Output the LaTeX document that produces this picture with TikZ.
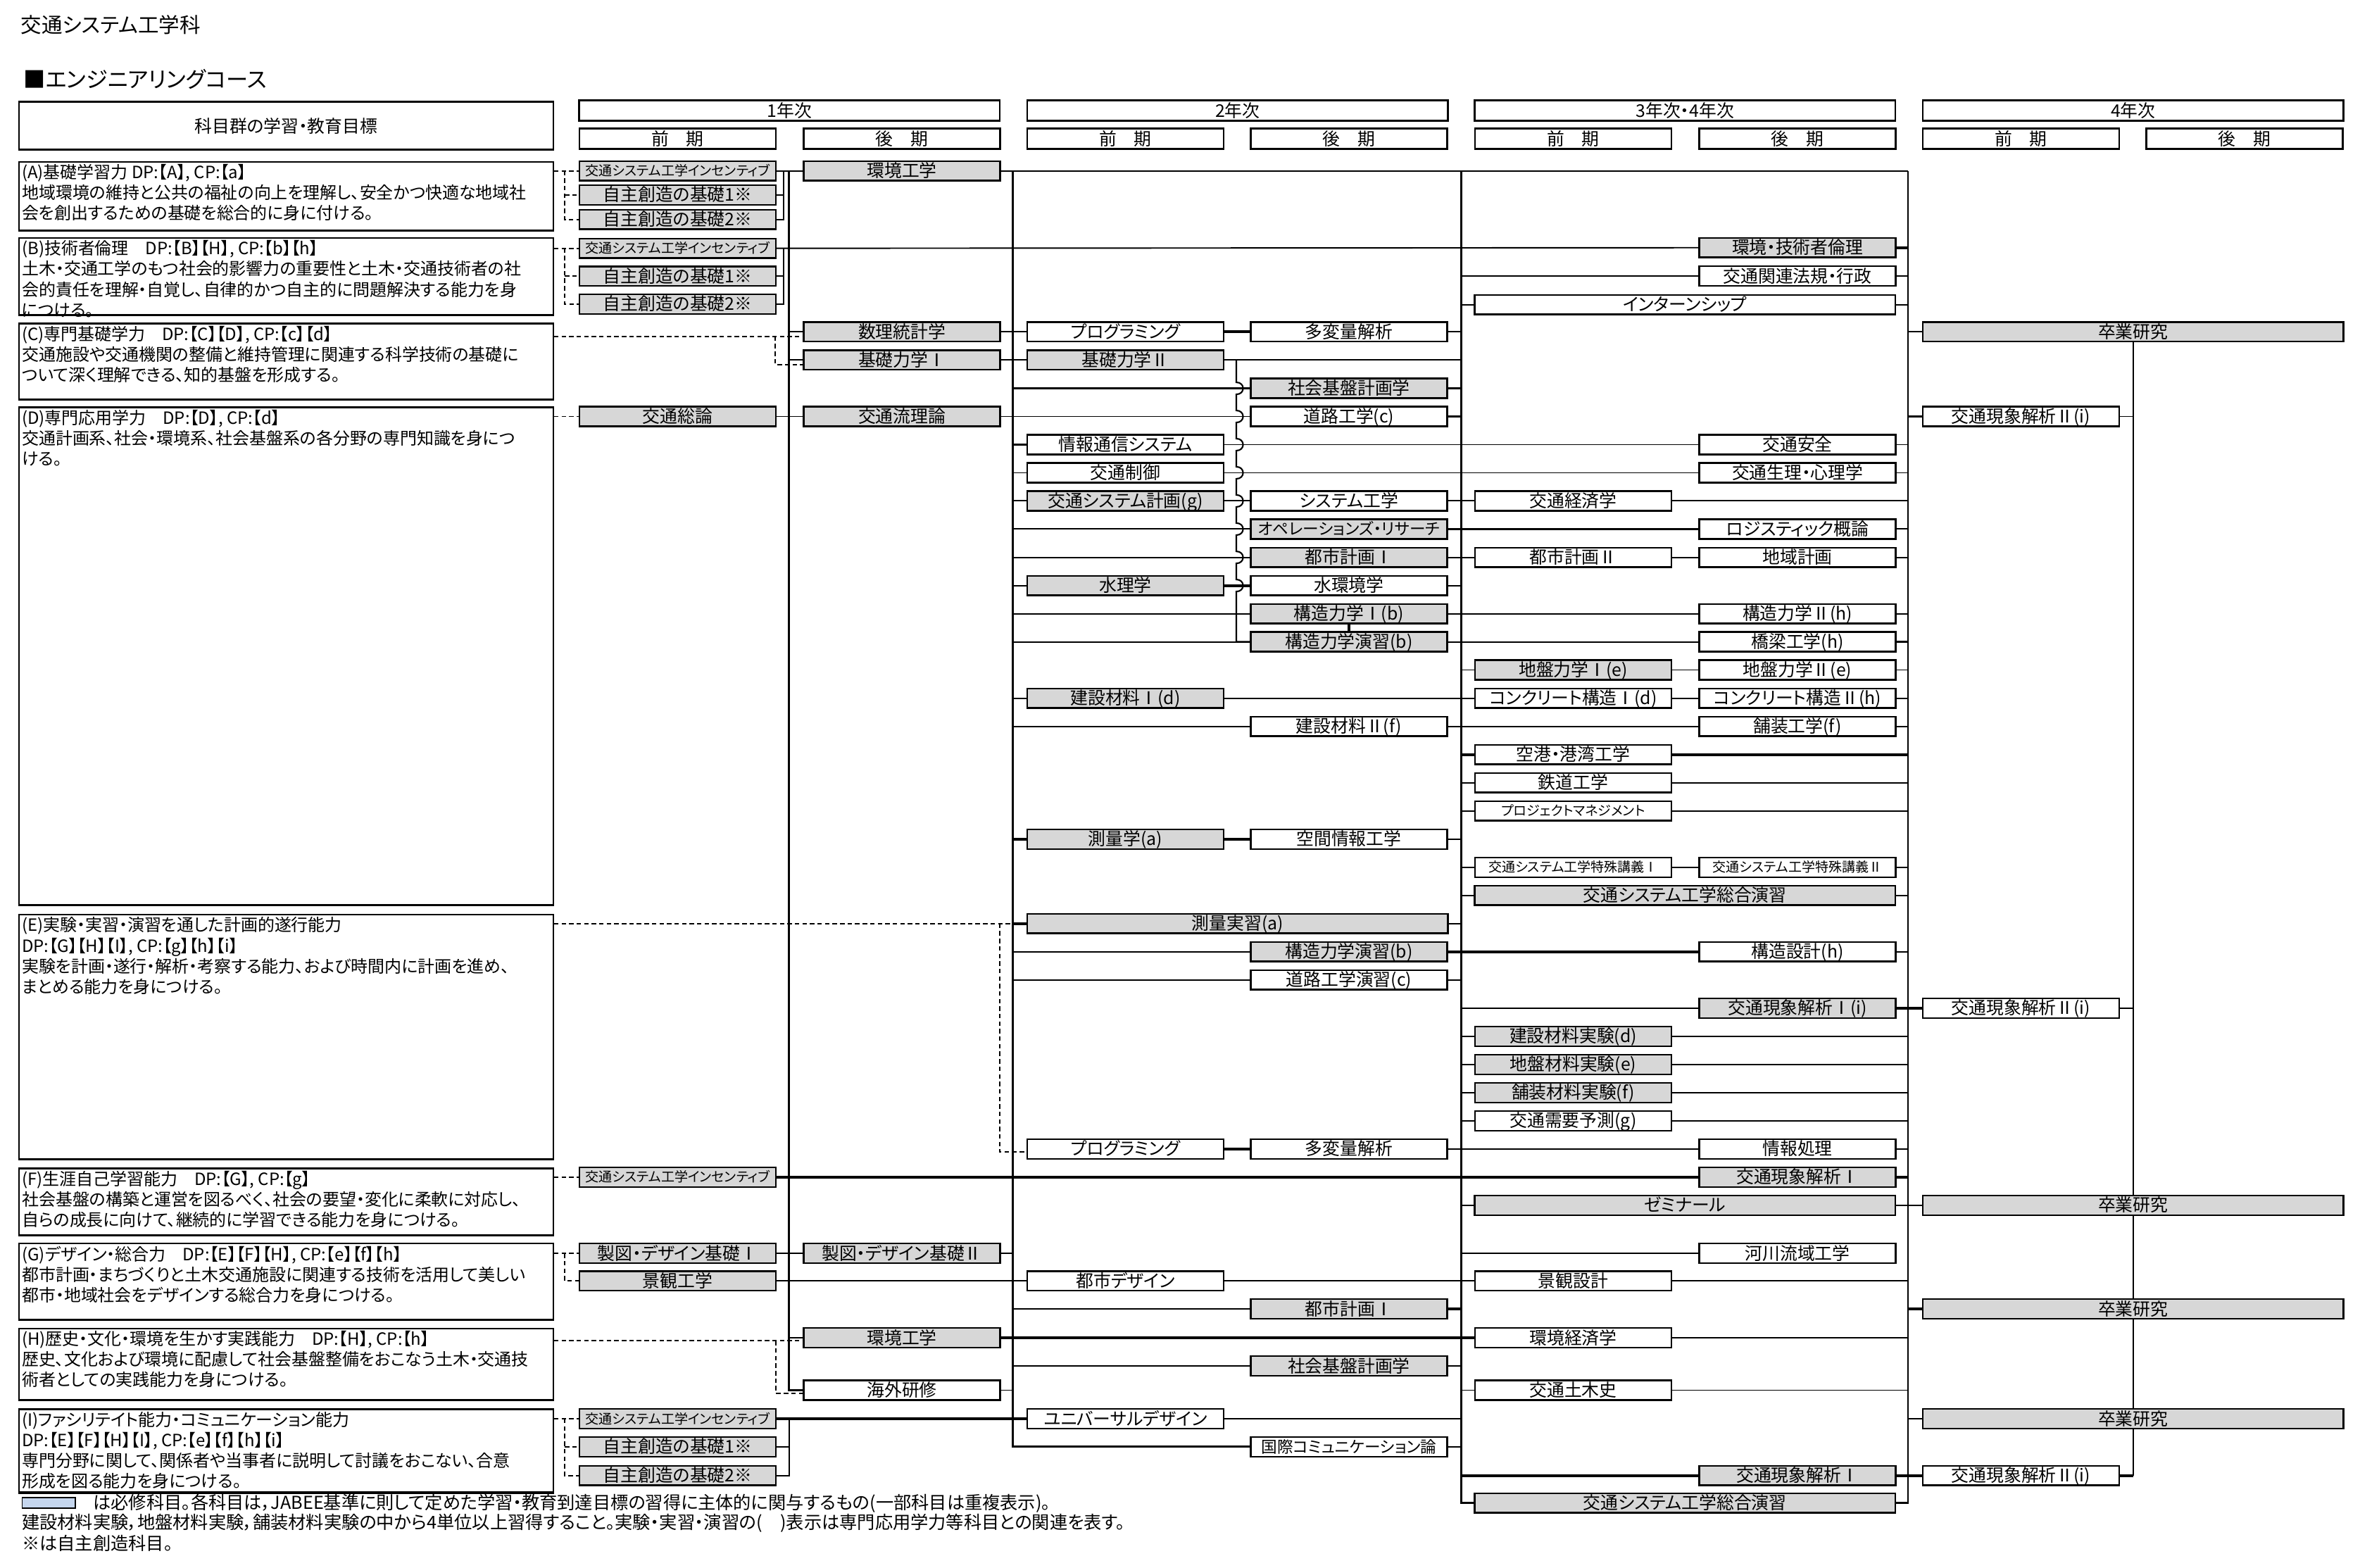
\documentclass[tikz,border=0pt]{standalone}
\usepackage{fontspec}
\setmainfont{Noto Sans CJK JP}[RawFeature=+palt]
\usepackage{tikz}
\definecolor{reqgray}{RGB}{215,215,215}
\definecolor{legblue}{RGB}{197,214,238}
\newcommand\jfs[1]{\fontsize{#1}{#1}\selectfont}

\begin{document}
\begin{tikzpicture}[x=1pt,y=-1pt,
     subj/.style={draw,line width=1.1pt,minimum width=130.5pt,minimum height=13pt,inner sep=0pt,
                  text height=9.4pt,text depth=1pt,font=\jfs{11.6}},
     req/.style={subj,fill=reqgray},
     opt/.style={subj,fill=white},
     wide/.style={minimum width=279.5pt},
     smalltxt/.style={font=\jfs{8.9},text height=7.3pt,text depth=0.8pt},
     narrowtxt/.style={font=\jfs{10.6},text height=8.6pt,text depth=0.9pt},
     thickfoot/.style={path picture={\draw[line width=2pt] (path picture bounding box.south west) -- (path picture bounding box.south east);}},
     hdbox/.style={draw,line width=1.1pt,minimum width=130.5pt,minimum height=13.6pt,inner sep=0pt,
                   text height=9.4pt,text depth=1pt,font=\jfs{11.6},thickfoot},
     objbox/.style={draw,line width=1.1pt,minimum width=355pt,anchor=north west,inner sep=0pt,thickfoot},
     objtext/.style={anchor=north west,align=left,inner xsep=2.4pt,inner ysep=2pt,font=\fontsize{11.2}{13.6}\selectfont},
     link/.style={line width=0.9pt},
     heavy/.style={line width=1.8pt},
     trunk/.style={line width=1.5pt},
     rtrunk/.style={line width=1.1pt},
     hopline/.style={line width=1pt},
     dashlink/.style={line width=0.9pt,dash pattern=on 3pt off 2pt}]

     \path[use as bounding box,fill=white] (0,0) rectangle (1568,1041.7);

     \node[anchor=west,inner sep=0pt,font=\jfs{13.8}] (title) at (13.7,16.5) {交通システム工学科};
     \node[anchor=west,inner sep=0pt,font=\jfs{14.6}] (course) at (15.5,52.8) {■エンジニアリングコース};
     \node[objbox,minimum height=32pt,font=\jfs{11.6}] (head) at (12,67) {科目群の学習・教育目標};

     \node[hdbox,wide] (yr1) at (524.5,73.5) {1年次};
     \node[hdbox,wide] (yr2) at (822.25,73.5) {2年次};
     \node[hdbox,wide] (yr3) at (1119.5,73.5) {3年次・4年次};
     \node[hdbox,wide] (yr4) at (1417.25,73.5) {4年次};
     \foreach \cx [count=\i] in {450.25,747.75,1045.25,1342.75}
          \node[hdbox] (mae\i) at (\cx,92.2) {前　期};
     \foreach \cx [count=\i] in {599.25,896.25,1194.25,1491.25}
          \node[hdbox] (ato\i) at (\cx,92.2) {後　期};

     \node[objbox,minimum height=46pt] (objA) at (12,107) {};
     \node[objtext] (objAt) at (objA.north west) {(A)基礎学習力 DP:【A】, CP:【a】\\
          地域環境の維持と公共の福祉の向上を理解し、安全かつ快適な地域社\\
          会を創出するための基礎を総合的に身に付ける。};
     \node[objbox,minimum height=51.4pt] (objB) at (12,157.6) {};
     \node[objtext] (objBt) at (objB.north west) {(B)技術者倫理　DP:【B】【H】, CP:【b】【h】\\
          土木・交通工学のもつ社会的影響力の重要性と土木・交通技術者の社\\
          会的責任を理解・自覚し、自律的かつ自主的に問題解決する能力を身\\
          につける。};
     \node[objbox,minimum height=50.6pt] (objC) at (12,214.4) {};
     \node[objtext] (objCt) at (objC.north west) {(C)専門基礎学力　DP:【C】【D】, CP:【c】【d】\\
          交通施設や交通機関の整備と維持管理に関連する科学技術の基礎に\\
          ついて深く理解できる、知的基盤を形成する。};
     \node[objbox,minimum height=331pt] (objD) at (12,270) {};
     \node[objtext] (objDt) at (objD.north west) {(D)専門応用学力　DP:【D】, CP:【d】\\
          交通計画系、社会・環境系、社会基盤系の各分野の専門知識を身につ\\
          ける。};
     \node[objbox,minimum height=162.8pt] (objE) at (12,607.2) {};
     \node[objtext] (objEt) at (objE.north west) {(E)実験・実習・演習を通した計画的遂行能力\\
          DP:【G】【H】【I】, CP:【g】【h】【i】\\
          実験を計画・遂行・解析・考察する能力、および時間内に計画を進め、\\
          まとめる能力を身につける。};
     \node[objbox,minimum height=44.7pt] (objF) at (12,775.8) {};
     \node[objtext] (objFt) at (objF.north west) {(F)生涯自己学習能力　DP:【G】, CP:【g】\\
          社会基盤の構築と運営を図るべく、社会の要望・変化に柔軟に対応し、\\
          自らの成長に向けて、継続的に学習できる能力を身につける。};
     \node[objbox,minimum height=50.8pt] (objG) at (12,825.6) {};
     \node[objtext] (objGt) at (objG.north west) {(G)デザイン・総合力　DP:【E】【F】【H】, CP:【e】【f】【h】\\
          都市計画・まちづくりと土木交通施設に関連する技術を活用して美しい\\
          都市・地域社会をデザインする総合力を身につける。};
     \node[objbox,minimum height=48pt] (objH) at (12,882) {};
     \node[objtext] (objHt) at (objH.north west) {(H)歴史・文化・環境を生かす実践能力　DP:【H】, CP:【h】\\
          歴史、文化および環境に配慮して社会基盤整備をおこなう土木・交通技\\
          術者としての実践能力を身につける。};
     \node[objbox,minimum height=55.6pt] (objI) at (12,935.7) {};
     \node[objtext] (objIt) at (objI.north west) {(I)ファシリテイト能力・コミュニケーション能力\\
          DP:【E】【F】【H】【I】, CP:【e】【f】【h】【i】\\
          専門分野に関して、関係者や当事者に説明して討議をおこない、合意\\
          形成を図る能力を身につける。};

     \node[req,smalltxt] (incA) at (450.25,113.5) {交通システム工学インセンティブ};
     \node[req] (jisA1) at (450.25,129.5) {自主創造の基礎1※};
     \node[req] (jisA2) at (450.25,145.8) {自主創造の基礎2※};
     \node[req] (kankyoA) at (599.25,113.5) {環境工学};
     \node[req,smalltxt] (incB) at (450.25,165) {交通システム工学インセンティブ};
     \node[req] (jisB1) at (450.25,183.5) {自主創造の基礎1※};
     \node[req] (jisB2) at (450.25,202) {自主創造の基礎2※};
     \node[req] (rinri) at (1194.25,164.5) {環境・技術者倫理};
     \node[opt] (hoki) at (1194.25,183.4) {交通関連法規・行政};
     \node[opt,wide] (intern) at (1119.5,202.4) {インターンシップ};

     \node[req] (suri) at (599.25,220.5) {数理統計学};
     \node[opt] (prog1) at (747.75,220.5) {プログラミング};
     \node[opt] (tahen1) at (896.25,220.5) {多変量解析};
     \node[req,wide] (sotsu1) at (1417.25,220.5) {卒業研究};
     \node[req] (kiso1) at (599.25,239.2) {基礎力学Ⅰ};
     \node[req] (kiso2) at (747.75,239.2) {基礎力学Ⅱ};
     \node[req] (shakai1) at (896.25,258) {社会基盤計画学};
     \node[req] (soron) at (450.25,276.7) {交通総論};
     \node[req] (ryuri) at (599.25,276.7) {交通流理論};
     \node[opt] (doro) at (896.25,276.7) {道路工学(c)};
     \node[opt] (gen2a) at (1342.75,276.7) {交通現象解析Ⅱ(i)};
     \node[opt] (joho) at (747.75,295.4) {情報通信システム};
     \node[opt] (anzen) at (1194.25,295.4) {交通安全};
     \node[opt] (seigyo) at (747.75,314.1) {交通制御};
     \node[opt] (shinri) at (1194.25,314.1) {交通生理・心理学};
     \node[req] (keikaku) at (747.75,332.8) {交通システム計画(g)};
     \node[opt] (system) at (896.25,332.8) {システム工学};
     \node[opt] (keizai) at (1045.25,332.8) {交通経済学};
     \node[req,narrowtxt] (opres) at (896.25,351.5) {オペレーションズ・リサーチ};
     \node[opt] (logi) at (1194.25,351.5) {ロジスティック概論};
     \node[req] (toshi1) at (896.25,370.3) {都市計画Ⅰ};
     \node[opt] (toshi2) at (1045.25,370.3) {都市計画Ⅱ};
     \node[opt] (chiiki) at (1194.25,370.3) {地域計画};
     \node[req] (suiri) at (747.75,389) {水理学};
     \node[opt] (suikan) at (896.25,389) {水環境学};
     \node[req] (kozo1) at (896.25,407.7) {構造力学Ⅰ(b)};
     \node[opt] (kozo2) at (1194.25,407.7) {構造力学Ⅱ(h)};
     \node[req] (kozoen1) at (896.25,426.4) {構造力学演習(b)};
     \node[opt] (kyoryo) at (1194.25,426.4) {橋梁工学(h)};
     \node[req] (jiban1) at (1045.25,445.1) {地盤力学Ⅰ(e)};
     \node[opt] (jiban2) at (1194.25,445.1) {地盤力学Ⅱ(e)};
     \node[req] (zai1) at (747.75,463.9) {建設材料Ⅰ(d)};
     \node[opt] (con1) at (1045.25,463.9) {コンクリート構造Ⅰ(d)};
     \node[opt] (con2) at (1194.25,463.9) {コンクリート構造Ⅱ(h)};
     \node[opt] (zai2) at (896.25,482.6) {建設材料Ⅱ(f)};
     \node[opt] (hoso) at (1194.25,482.6) {舗装工学(f)};
     \node[opt] (kuko) at (1045.25,501.3) {空港・港湾工学};
     \node[opt] (tetsudo) at (1045.25,520) {鉄道工学};
     \node[opt,smalltxt] (pm) at (1045.25,538.7) {プロジェクトマネジメント};
     \node[req] (sokuryo) at (747.75,557.5) {測量学(a)};
     \node[opt] (kukan) at (896.25,557.5) {空間情報工学};
     \node[opt,smalltxt] (toku1) at (1045.25,576.2) {交通システム工学特殊講義Ⅰ};
     \node[opt,smalltxt] (toku2) at (1194.25,576.2) {交通システム工学特殊講義Ⅱ};
     \node[req,wide] (sogo1) at (1119.5,594.9) {交通システム工学総合演習};
     \node[req,wide] (jisshu) at (822.25,613.6) {測量実習(a)};
     \node[req] (kozoen2) at (896.25,632.3) {構造力学演習(b)};
     \node[opt] (sekkei) at (1194.25,632.3) {構造設計(h)};
     \node[opt] (doroen) at (896.25,651) {道路工学演習(c)};
     \node[req] (gen1i) at (1194.25,669.8) {交通現象解析Ⅰ(i)};
     \node[opt] (gen2b) at (1342.75,669.8) {交通現象解析Ⅱ(i)};
     \node[req] (zaijk) at (1045.25,688.5) {建設材料実験(d)};
     \node[req] (jibanjk) at (1045.25,707.2) {地盤材料実験(e)};
     \node[req] (hosojk) at (1045.25,725.9) {舗装材料実験(f)};
     \node[opt] (juyo) at (1045.25,744.7) {交通需要予測(g)};
     \node[opt] (prog2) at (747.75,763.4) {プログラミング};
     \node[opt] (tahen2) at (896.25,763.4) {多変量解析};
     \node[opt] (shori) at (1194.25,763.4) {情報処理};
     \node[req,smalltxt] (incF) at (450.25,782.1) {交通システム工学インセンティブ};
     \node[req] (gen1a) at (1194.25,782.1) {交通現象解析Ⅰ};
     \node[req,wide] (semi) at (1119.5,800.8) {ゼミナール};
     \node[req,wide] (sotsu2) at (1417.25,800.8) {卒業研究};

     \node[req] (seizu1) at (450.25,832.7) {製図・デザイン基礎Ⅰ};
     \node[req] (seizu2) at (599.25,832.7) {製図・デザイン基礎Ⅱ};
     \node[opt] (kasen) at (1194.25,832.7) {河川流域工学};
     \node[req] (keikan) at (450.25,851) {景観工学};
     \node[opt] (toshid) at (747.75,851) {都市デザイン};
     \node[opt] (keikans) at (1045.25,851) {景観設計};
     \node[req] (toshi1b) at (896.25,869.6) {都市計画Ⅰ};
     \node[req,wide] (sotsu3) at (1417.25,869.6) {卒業研究};
     \node[req] (kankyoB) at (599.25,888.8) {環境工学};
     \node[opt] (kkeizai) at (1045.25,888.8) {環境経済学};
     \node[req] (shakai2) at (896.25,907.5) {社会基盤計画学};
     \node[opt] (kaigai) at (599.25,923.6) {海外研修};
     \node[opt] (doboku) at (1045.25,923.6) {交通土木史};
     \node[req,smalltxt] (incI) at (450.25,942.6) {交通システム工学インセンティブ};
     \node[opt] (univ) at (747.75,942.6) {ユニバーサルデザイン};
     \node[req,wide] (sotsu4) at (1417.25,942.6) {卒業研究};
     \node[req] (jisI1) at (450.25,961.2) {自主創造の基礎1※};
     \node[opt,narrowtxt] (kokusai) at (896.25,961.2) {国際コミュニケーション論};
     \node[req] (jisI2) at (450.25,980.3) {自主創造の基礎2※};
     \node[req] (gen1b) at (1194.25,980.3) {交通現象解析Ⅰ};
     \node[opt] (gen2c) at (1342.75,980.3) {交通現象解析Ⅱ(i)};
     \node[req,wide] (sogo2) at (1119.5,998.5) {交通システム工学総合演習};

     \coordinate (t1) at (524.2,113.5);
     \coordinate (t2) at (672.8,113.5);
     \coordinate (t3) at (970.8,113.5);
     \coordinate (t4) at (1267.8,113.5);
     \coordinate (b1) at (520.5,113.5);
     \coordinate (hop) at (821.4,239.2);
     \coordinate (da) at (375.3,0);
     \coordinate (dc) at (515.2,0);
     \coordinate (de) at (664.2,0);
     \coordinate (dh) at (515.5,0);

     \draw[trunk] (t1) -- (t1 |- kaigai.west) -- (kaigai.west);
     \draw[trunk] (t2) -- (t2 |- kokusai.west) -- (kokusai.west);
     \draw[trunk] (t3) -- (t3 |- sogo2.west) -- (sogo2.west);
     \draw[rtrunk] (t4) -- (t4 |- sogo2.east) -- (sogo2.east);
     \draw[rtrunk] (sotsu1.south) -- (sotsu2.north) (sotsu2.south) -- (sotsu3.north)
          (sotsu3.south) -- (sotsu4.north) (sotsu4.south) -- (sotsu4.south |- gen2c.east);

     \draw[link] (incA) -- (kankyoA);
     \draw[link] (kankyoA) -- (t4);
     \draw[link] (jisA1.east) -- (b1 |- jisA1.east);
     \draw[link] (jisA2.east) -- (b1 |- jisA2.east) -- (b1);
     \draw[link] (incB) -- (rinri);
     \draw[link] (jisB1.east) -- (b1 |- jisB1.east);
     \draw[link] (jisB2.east) -- (b1 |- jisB2.east) -- (b1 |- incB.east);
     \draw[heavy] (rinri.east) -- (t4 |- rinri.east);
     \draw[link] (t3 |- hoki.west) -- (hoki.west);
     \draw[link] (hoki.east) -- (t4 |- hoki.east);
     \draw[link] (t3 |- intern.west) -- (intern.west);
     \draw[link] (intern.east) -- (t4 |- intern.east);
     \draw[link] (t4 |- sotsu1.west) -- (sotsu1.west);

     \draw[link] (t1 |- suri.west) -- (suri.west);
     \draw[link] (suri) -- (prog1);
     \draw[heavy] (prog1) -- (tahen1);
     \draw[link] (tahen1.east) -- (t3 |- tahen1.east);
     \draw[link] (t1 |- kiso1.west) -- (kiso1.west);
     \draw[link] (kiso1) -- (kiso2);
     \draw[link] (kiso2.east) -- (t3 |- kiso2.east);
     \draw[heavy] (t2 |- shakai1.west) -- (shakai1.west);
     \draw[heavy] (shakai1.east) -- (t3 |- shakai1.east);
     \draw[link] (soron) -- (ryuri);
     \draw[link] (ryuri) -- (doro);
     \draw[heavy] (doro.east) -- (t3 |- doro.east);
     \draw[heavy] (t4 |- gen2a.west) -- (gen2a.west);
     \draw[link] (gen2a.east) -- (sotsu1.south |- gen2a.east);
     \draw[heavy] (t2 |- joho.west) -- (joho.west);
     \draw[link] (joho) -- (anzen);
     \draw[link] (anzen.east) -- (t4 |- anzen.east);
     \draw[link] (t2 |- seigyo.west) -- (seigyo.west);
     \draw[link] (seigyo) -- (shinri);
     \draw[link] (shinri.east) -- (t4 |- shinri.east);
     \draw[link] (t2 |- keikaku.west) -- (keikaku.west);
     \draw[link] (keikaku) -- (system);
     \draw[link] (system) -- (keizai);
     \draw[link] (keizai.east) -- (t4 |- keizai.east);
     \draw[link] (t2 |- opres.west) -- (opres.west);
     \draw[heavy] (opres) -- (logi);
     \draw[link] (logi.east) -- (t4 |- logi.east);
     \draw[link] (t2 |- toshi1.west) -- (toshi1.west);
     \draw[link] (toshi1) -- (toshi2);
     \draw[link] (toshi2) -- (chiiki);
     \draw[link] (chiiki.east) -- (t4 |- chiiki.east);
     \draw[link] (t2 |- suiri.west) -- (suiri.west);
     \draw[heavy] (suiri) -- (suikan);
     \draw[link] (suikan.east) -- (t3 |- suikan.east);
     \draw[link] (t2 |- kozo1.west) -- (kozo1.west);
     \draw[link] (kozo1) -- (kozo2);
     \draw[link] (kozo2.east) -- (t4 |- kozo2.east);
     \draw[heavy] (kozo1) -- (kozoen1);
     \draw[link] (t2 |- kozoen1.west) -- (kozoen1.west);
     \draw[link] (kozoen1) -- (kyoryo);
     \draw[heavy] (kyoryo.east) -- (t4 |- kyoryo.east);
     \draw[link] (t3 |- jiban1.west) -- (jiban1.west);
     \draw[link] (jiban1) -- (jiban2);
     \draw[link] (jiban2.east) -- (t4 |- jiban2.east);
     \draw[link] (t2 |- zai1.west) -- (zai1.west);
     \draw[link] (zai1) -- (con1);
     \draw[link] (con1) -- (con2);
     \draw[link] (con2.east) -- (t4 |- con2.east);
     \draw[link] (t2 |- zai2.west) -- (zai2.west);
     \draw[link] (zai2) -- (hoso);
     \draw[link] (hoso.east) -- (t4 |- hoso.east);
     \draw[heavy] (t3 |- kuko.west) -- (kuko.west);
     \draw[heavy] (kuko.east) -- (t4 |- kuko.east);
     \foreach \n in {tetsudo,pm,sogo1,zaijk,jibanjk,hosojk,juyo} {
          \draw[link] (t3 |- \n.west) -- (\n.west);
          \draw[link] (\n.east) -- (t4 |- \n.east);
     }
     \draw[heavy] (t2 |- sokuryo.west) -- (sokuryo.west);
     \draw[heavy] (sokuryo) -- (kukan);
     \draw[link] (kukan.east) -- (t3 |- kukan.east);
     \draw[link] (t3 |- toku1.west) -- (toku1.west);
     \draw[link] (toku1) -- (toku2);
     \draw[link] (toku2.east) -- (t4 |- toku2.east);
     \draw[heavy] (t2 |- jisshu.west) -- (jisshu.west);
     \draw[link] (jisshu.east) -- (t3 |- jisshu.east);
     \draw[link] (t2 |- kozoen2.west) -- (kozoen2.west);
     \draw[heavy] (kozoen2) -- (sekkei);
     \draw[link] (sekkei.east) -- (t4 |- sekkei.east);
     \draw[link] (t2 |- doroen.west) -- (doroen.west);
     \draw[link] (doroen.east) -- (t3 |- doroen.east);
     \draw[link] (t3 |- gen1i.west) -- (gen1i.west);
     \draw[heavy] (gen1i) -- (gen2b);
     \draw[link] (gen2b.east) -- (sotsu1.south |- gen2b.east);
     \draw[heavy] (prog2) -- (tahen2);
     \draw[link] (tahen2) -- (shori);
     \draw[link] (shori.east) -- (t4 |- shori.east);
     \draw[heavy] (incF) -- (gen1a);
     \draw[heavy] (gen1a.east) -- (t4 |- gen1a.east);
     \draw[link] (t3 |- semi.west) -- (semi.west);
     \draw[link] (semi) -- (sotsu2);

     \draw[link] (seizu1) -- (seizu2);
     \draw[link] (seizu2.east) -- (t2 |- seizu2.east);
     \draw[link] (t3 |- kasen.west) -- (kasen.west);
     \draw[link] (keikan) -- (toshid);
     \draw[link] (toshid) -- (keikans);
     \draw[link] (keikans.east) -- (t4 |- keikans.east);
     \draw[link] (t2 |- toshi1b.west) -- (toshi1b.west);
     \draw[heavy] (toshi1b.east) -- (t3 |- toshi1b.east);
     \draw[heavy] (t4 |- sotsu3.west) -- (sotsu3.west);
     \draw[link] (t1 |- kankyoB.west) -- (kankyoB.west);
     \draw[heavy] (kankyoB) -- (kkeizai);
     \draw[link] (kkeizai.east) -- (t4 |- kkeizai.east);
     \draw[link] (t2 |- shakai2.west) -- (shakai2.west);
     \draw[link] (shakai2.east) -- (t3 |- shakai2.east);
     \draw[link] (kaigai.east) -- (t2 |- kaigai.east);
     \draw[link] (t3 |- doboku.west) -- (doboku.west);
     \draw[link] (doboku.east) -- (t4 |- doboku.east);
     \draw[heavy] (incI) -- (univ);
     \draw[link] (univ.east) -- (t3 |- univ.east);
     \draw[link] (t4 |- sotsu4.west) -- (sotsu4.west);
     \draw[link] (jisI1.east) -- (t1 |- jisI1.east);
     \draw[link] (jisI2.east) -- (t1 |- jisI2.east) -- (t1 |- incI.east);
     \draw[link] (kokusai.east) -- (t3 |- kokusai.east);
     \draw[heavy] (t3 |- gen1b.west) -- (gen1b.west);
     \draw[heavy] (gen1b) -- (gen2c);
     \draw[heavy] (gen2c.east) -- (sotsu4.south |- gen2c.east);

     \draw[hopline] (hop) \foreach \y in {258,276.7,295.4,314.1,332.8,351.5,370.3,389} {
          -- (821.4,\y-4) .. controls (827.4,\y-4) and (827.4,\y+4) .. (821.4,\y+4) }
          -- (hop |- kozoen1.west) -- (kozoen1.west);

     \draw[dashlink] (objA.east |- incA.west) -- (incA.west);
     \draw[dashlink] (da |- incA.west) -- (da |- jisA2.west) -- (jisA2.west);
     \draw[dashlink] (da |- jisA1.west) -- (jisA1.west);
     \draw[dashlink] (objB.east |- incB.west) -- (incB.west);
     \draw[dashlink] (da |- incB.west) -- (da |- jisB2.west) -- (jisB2.west);
     \draw[dashlink] (da |- jisB1.west) -- (jisB1.west);
     \coordinate (cs) at ([yshift=-3pt]suri.west);
     \coordinate (ck) at ([yshift=-3pt]kiso1.west);
     \draw[dashlink] (objC.east |- cs) -- (cs);
     \draw[dashlink] (dc |- cs) -- (dc |- ck) -- (ck);
     \draw[dashlink] (objD.east |- soron.west) -- (soron.west);
     \coordinate (ep) at ([yshift=-2pt]prog2.west);
     \draw[dashlink] (objE.east |- jisshu.west) -- (jisshu.west);
     \draw[dashlink] (de |- jisshu.west) -- (de |- ep) -- (ep);
     \draw[dashlink] (objF.east |- incF.west) -- (incF.west);
     \draw[dashlink] (objG.east |- seizu1.west) -- (seizu1.west);
     \draw[dashlink] (da |- seizu1.west) -- (da |- keikan.west) -- (keikan.west);
     \coordinate (hk) at ([yshift=-2pt]kankyoB.west);
     \coordinate (hg) at ([yshift=-2pt]kaigai.west);
     \draw[dashlink] (objH.east |- hk) -- (hk);
     \draw[dashlink] (dh |- hk) -- (dh |- hg) -- (hg);
     \draw[dashlink] (objI.east |- incI.west) -- (incI.west);
     \draw[dashlink] (da |- incI.west) -- (da |- jisI2.west) -- (jisI2.west);
     \draw[dashlink] (da |- jisI1.west) -- (jisI1.west);

     \node[draw,line width=0.8pt,fill=legblue,minimum width=35.4pt,minimum height=7pt,inner sep=0pt,anchor=west] (legbox) at (14.4,998.5) {};
     \node[anchor=west,inner sep=0pt,font=\jfs{11.8}] (leg1) at (61.8,999) {は必修科目。各科目は，JABEE基準に則して定めた学習・教育到達目標の習得に主体的に関与するもの(一部科目は重複表示)。};
     \node[anchor=west,inner sep=0pt,font=\jfs{11.8}] (leg2) at (14.4,1012) {建設材料実験，地盤材料実験，舗装材料実験の中から4単位以上習得すること。実験・実習・演習の(　)表示は専門応用学力等科目との関連を表す。};
     \node[anchor=west,inner sep=0pt,font=\jfs{11.8}] (leg3) at (14.4,1025.5) {※は自主創造科目。};
\end{tikzpicture}
\end{document}
